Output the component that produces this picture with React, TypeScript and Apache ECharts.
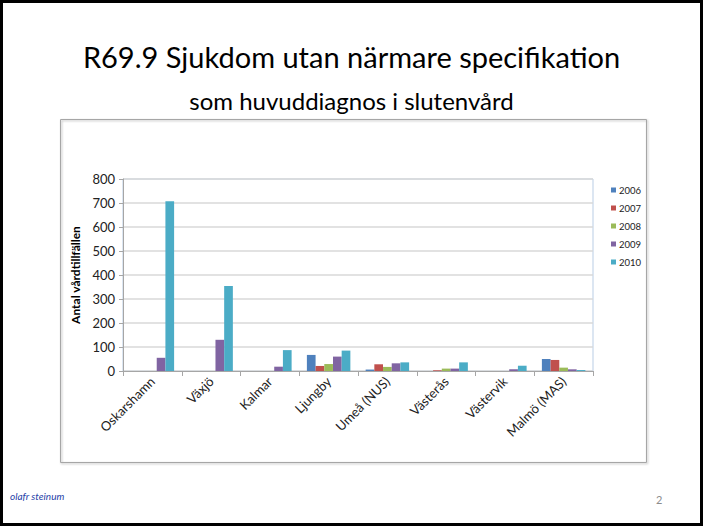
import React, { useEffect, useRef } from "react";
import * as echarts from "echarts";

const categories = ["Oskarshamn", "Växjö", "Kalmar", "Ljungby", "Umeå (NUS)", "Västerås", "Västervik", "Malmö (MAS)"];
const years = ["2006", "2007", "2008", "2009", "2010"];
const v2006 = [0, 0, 0, 67, 6, 0, 0, 50];
const v2007 = [0, 0, 0, 21, 28, 3, 0, 46];
const v2008 = [0, 0, 0, 29, 17, 10, 0, 14];
const v2009 = [55, 130, 18, 60, 32, 10, 7, 7];
const v2010 = [707, 354, 87, 85, 36, 36, 22, 4];
const colors = ["#4f81bd", "#c0504d", "#9bbb59", "#8064a2", "#4bacc6"];

export default function App() {
  const ref = useRef<HTMLDivElement>(null);
  useEffect(() => {
    document.body.style.margin = "0";
    const chart = echarts.init(ref.current!, null, { renderer: "svg" });
    const seriesData = [v2006, v2007, v2008, v2009, v2010];
    const font = "Lato, 'Open Sans', sans-serif";
    chart.setOption({
      animation: false,
      backgroundColor: "#ffffff",
      color: colors,
      title: [
        {
          text: "R69.9 Sjukdom utan närmare specifikation",
          left: "center",
          top: 37,
          textStyle: { fontFamily: font, fontSize: 29, fontWeight: "normal", color: "#000" },
        },
        {
          text: "som huvuddiagnos i slutenvård",
          left: "center",
          top: 83,
          textStyle: { fontFamily: font, fontSize: 24, fontWeight: "normal", color: "#000" },
        },
      ],
      graphic: [
        {
          type: "rect",
          shape: { x: 1.5, y: 1.5, width: 700, height: 523 },
          style: { fill: "none", stroke: "#000", lineWidth: 3 },
          silent: true,
          z: 100,
        },
        {
          type: "rect",
          shape: { x: 60.5, y: 119.5, width: 586, height: 343 },
          style: { fill: "none", stroke: "#a6a6a6", lineWidth: 1, shadowColor: "rgba(0,0,0,0.3)", shadowBlur: 2, shadowOffsetX: 1, shadowOffsetY: 1 },
          silent: true,
        },
        {
          type: "text",
          left: 10,
          top: 491,
          style: { text: "olafr steinum", fontFamily: font, fontSize: 10, fontStyle: "italic", fill: "#1f3fa8" },
        },
        {
          type: "text",
          left: 656,
          top: 494,
          style: { text: "2", fontFamily: font, fontSize: 11, fill: "#8c8c8c" },
        },
      ],
      legend: {
        orient: "vertical",
        left: 606,
        top: 180,
        itemWidth: 5,
        itemHeight: 5,
        itemGap: 8,
        icon: "rect",
        data: years,
        textStyle: { fontFamily: font, fontSize: 9.5, color: "#222", padding: [0, 0, 0, -2] },
      },
      grid: {
        left: 123,
        right: 110,
        top: 179,
        bottom: 155,
        show: true,
        borderColor: "#b9cde5",
        borderWidth: 1,
        backgroundColor: "transparent",
      },
      xAxis: {
        type: "category",
        data: categories,
        axisLine: { lineStyle: { color: "#a6a6a6" } },
        axisTick: { show: true, length: 5, alignWithLabel: false, lineStyle: { color: "#a6a6a6" } },
        axisLabel: { rotate: 45, fontFamily: font, fontSize: 13, color: "#222", margin: 8, interval: 0 },
      },
      yAxis: {
        type: "value",
        min: 0,
        max: 800,
        interval: 100,
        name: "Antal vårdtillfällen",
        nameLocation: "middle",
        nameGap: 38,
        nameTextStyle: { fontFamily: font, fontSize: 12, fontWeight: "bold", color: "#000" },
        axisLine: { show: true, lineStyle: { color: "#a6a6a6" } },
        axisTick: { show: true, length: 4, lineStyle: { color: "#a6a6a6" } },
        axisLabel: { fontFamily: font, fontSize: 13, color: "#222", margin: 8 },
        splitLine: { lineStyle: { color: "#d9d9d9", width: 1.5 } },
      },
      series: years.map((y, i) => ({
        name: y,
        type: "bar",
        data: seriesData[i],
        barGap: "0%",
        barCategoryGap: "26%",
        itemStyle: { color: colors[i] },
      })),
    });
    return () => chart.dispose();
  }, []);
  return <div ref={ref} style={{ position: "fixed", left: 0, top: 0, width: 703, height: 526 }} />;
}
